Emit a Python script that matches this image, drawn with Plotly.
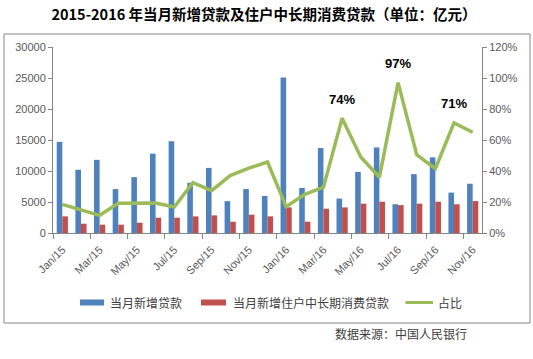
import plotly.graph_objects as go

# ---------------- data ----------------
months = ["Jan/15", "Feb/15", "Mar/15", "Apr/15", "May/15", "Jun/15", "Jul/15", "Aug/15",
          "Sep/15", "Oct/15", "Nov/15", "Dec/15", "Jan/16", "Feb/16", "Mar/16", "Apr/16",
          "May/16", "Jun/16", "Jul/16", "Aug/16", "Sep/16", "Oct/16", "Nov/16"]
new_loans = [14700, 10200, 11800, 7079, 9008, 12800, 14800, 8096, 10500, 5136, 7089, 5978,
             25100, 7266, 13700, 5556, 9855, 13800, 4636, 9487, 12200, 6513, 7946]
consumer_loans = [2680, 1500, 1340, 1340, 1660, 2470, 2470, 2680, 2840, 1820, 2950, 2680,
                  4130, 1820, 3920, 4130, 4730, 5050, 4500, 4730, 5050, 4630, 5150]
ratio_pct = [18.5, 14.8, 11.4, 19.2, 19.2, 19.3, 16.8, 32.5, 27.3, 37.0, 41.8, 45.8,
             17.0, 25.0, 29.5, 74.0, 49.0, 36.0, 97.0, 50.5, 41.5, 71.0, 65.0]
highlight_idx = [15, 18, 21]

series_names = ["当月新增贷款", "当月新增住户中长期消费贷款", "占比"]
title_text = "2015-2016 年当月新增贷款及住户中长期消费贷款（单位：亿元）"
source_text = "数据来源：中国人民银行"

BLUE, RED, GREEN = "#4F81BD", "#C0504D", "#9BBB59"
AXIS = "#868686"
TXT = "#595959"
CJK = "Noto Sans CJK SC"
LAT = "Liberation Sans"

W, H = 533, 359
ML, MR, MT, MB = 53, 51, 47, 126
PW, PH = W - ML - MR, H - MT - MB


def px(xp):
    return (xp - ML) / PW


def py(yp):
    return (H - MB - yp) / PH


x = list(range(len(months)))

fig = go.Figure()
fig.add_trace(go.Bar(x=x, y=new_loans, name=series_names[0], marker_color=BLUE,
                     marker_line_width=0, showlegend=False))
fig.add_trace(go.Bar(x=x, y=consumer_loans, name=series_names[1], marker_color=RED,
                     marker_line_width=0, showlegend=False))
fig.add_trace(go.Scatter(x=x, y=ratio_pct, name=series_names[2], yaxis="y2", mode="lines",
                         line=dict(color=GREEN, width=3.5), showlegend=False))

annotations = []
for i in highlight_idx:
    annotations.append(dict(x=x[i], y=ratio_pct[i], xref="x", yref="y2",
                            text="<b>%d%%</b>" % round(ratio_pct[i]), showarrow=False,
                            yshift=19, font=dict(family=LAT, size=13, color="#000000")))

# custom legend
legend_font = dict(family=CJK, size=12, color="#404040")
shapes = [
    dict(type="rect", xref="paper", yref="paper", x0=px(4), x1=px(530), y0=py(323), y1=py(34),
         line=dict(color=AXIS, width=1), fillcolor="rgba(0,0,0,0)", layer="below"),
    dict(type="rect", xref="paper", yref="paper", x0=px(80), x1=px(104), y0=py(305.5), y1=py(299.5),
         line=dict(width=0), fillcolor=BLUE),
    dict(type="rect", xref="paper", yref="paper", x0=px(201), x1=px(226), y0=py(305.5), y1=py(299.5),
         line=dict(width=0), fillcolor=RED),
    dict(type="line", xref="paper", yref="paper", x0=px(405.5), x1=px(433), y0=py(302.5), y1=py(302.5),
         line=dict(color=GREEN, width=3)),
]
for xp, name in zip([108, 230.5, 436], series_names):
    annotations.append(dict(x=px(xp), y=py(302.5), xref="paper", yref="paper", text=name,
                            showarrow=False, xanchor="left", yanchor="middle", font=legend_font))
annotations.append(dict(x=px(333), y=py(333), xref="paper", yref="paper", text=source_text,
                        showarrow=False, xanchor="left", yanchor="middle",
                        font=dict(family=CJK, size=12, color="#404040")))

boundaries = [v - 0.5 for v in x[::2]]

fig.update_layout(
    template="none",
    width=W, height=H,
    margin=dict(l=ML, r=MR, t=MT, b=MB, pad=0),
    paper_bgcolor="white", plot_bgcolor="white",
    barmode="group", bargap=0.4, bargroupgap=0,
    title=dict(text="<b>" + title_text + "</b>", x=264 / W, xanchor="center",
               y=1 - 15 / H, yanchor="middle", font=dict(family=CJK, size=14.5, color="#000000")),
    xaxis=dict(range=[-0.5, len(months) - 0.5], tickmode="array", tickvals=x[::2],
               ticktext=months[::2], tickangle=-45, showline=True, linecolor=AXIS, linewidth=1,
               ticks="outside", ticklen=5, tickcolor="rgba(0,0,0,0)", showgrid=False,
               zeroline=False, automargin=False,
               tickfont=dict(family=LAT, size=11, color=TXT),
               minor=dict(tickmode="array", tickvals=boundaries, ticks="outside", ticklen=5,
                          tickcolor=AXIS, showgrid=False)),
    yaxis=dict(range=[0, 30000], dtick=5000, tickformat="d", showline=True, linecolor=AXIS,
               ticks="outside", ticklen=4, tickcolor=AXIS, showgrid=False, zeroline=False,
               automargin=False, tickfont=dict(family=LAT, size=11, color=TXT)),
    yaxis2=dict(range=[0, 120], dtick=20, ticksuffix="%", overlaying="y", side="right",
                showline=True, linecolor=AXIS, ticks="outside", ticklen=4, tickcolor=AXIS,
                showgrid=False, zeroline=False, automargin=False,
                tickfont=dict(family=LAT, size=11, color=TXT)),
    shapes=shapes,
    annotations=annotations,
    showlegend=False,
)

fig.write_html("out.html", config={"displayModeBar": False},
               post_script="document.body.style.margin='0';document.body.style.overflow='hidden';")
